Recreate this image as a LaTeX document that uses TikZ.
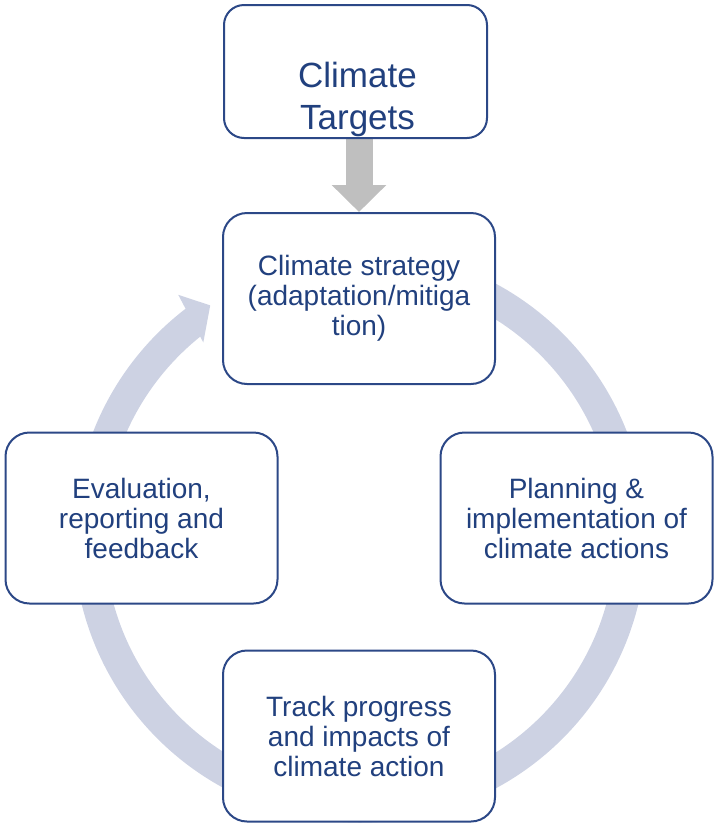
\documentclass[tikz,border=0pt]{standalone}
\usepackage{fontspec}
\setmainfont{Liberation Sans}
\usetikzlibrary{arrows.meta}
\definecolor{txtblue}{HTML}{21407E}
\definecolor{edgeblue}{HTML}{2C4887}
\definecolor{ringgray}{HTML}{CDD2E3}
\definecolor{feedgray}{HTML}{BFBFBF}
\pgfdeclarelayer{bg}
\pgfsetlayers{bg,main}

\begin{document}
\begin{tikzpicture}[x=1pt,y=1pt,
  stage/.style={draw=edgeblue, line width=2pt, fill=white,
    rounded corners=24pt, minimum width=272pt, minimum height=171pt,
    inner sep=0pt, align=center, text=txtblue,
    font=\fontsize{28}{30}\selectfont},
  topbox/.style={draw=edgeblue, line width=2pt, fill=white,
    rounded corners=20pt, minimum width=263pt, minimum height=133pt,
    inner sep=0pt},
  toptext/.style={align=center, text=txtblue, inner sep=0pt,
    font=\fontsize{35}{42}\selectfont},
  feed/.style={draw=feedgray, line width=27pt,
    -{Triangle[width=53pt,length=27pt]}},
  ringline/.style={draw=ringgray, line width=31pt},
  ringhead/.style={fill=ringgray}
]
\useasboundingbox (0,0) rectangle (714,-828);

% cycle stages
\node[stage] (strategy)   at (359,-298.5)   {Climate strategy\\(adaptation/mitiga\\tion)};
\node[stage] (planning)   at (576.5,-518)   {Planning \&\\implementation of\\climate actions};
\node[stage] (track)      at (359,-736)     {Track progress\\and impacts of\\climate action};
\node[stage] (evaluation) at (141.5,-518)   {Evaluation,\\reporting and\\feedback};

% targets box feeding the strategy
\node[topbox] (target) at (355.5,-71.5) {};
\node[toptext] (targetlabel) at (357.5,-99.3) {Climate\\Targets};

\begin{pgfonlayer}{bg}
  % continuous cycle ring with its arrowhead
  \coordinate (hub) at (360,-536);
  \draw[ringline] (hub) ++(90:271) arc[start angle=90, end angle=-232.5, radius=271pt];
  \fill[ringhead] ([shift={(hub)}]127:302) -- ([shift={(hub)}]123:275)
      -- ([shift={(hub)}]129:249) -- cycle;
  % grey arrow from targets into strategy
  \draw[feed] (strategy.north |- target.south) -- (strategy.north);
\end{pgfonlayer}
\end{tikzpicture}
\end{document}
